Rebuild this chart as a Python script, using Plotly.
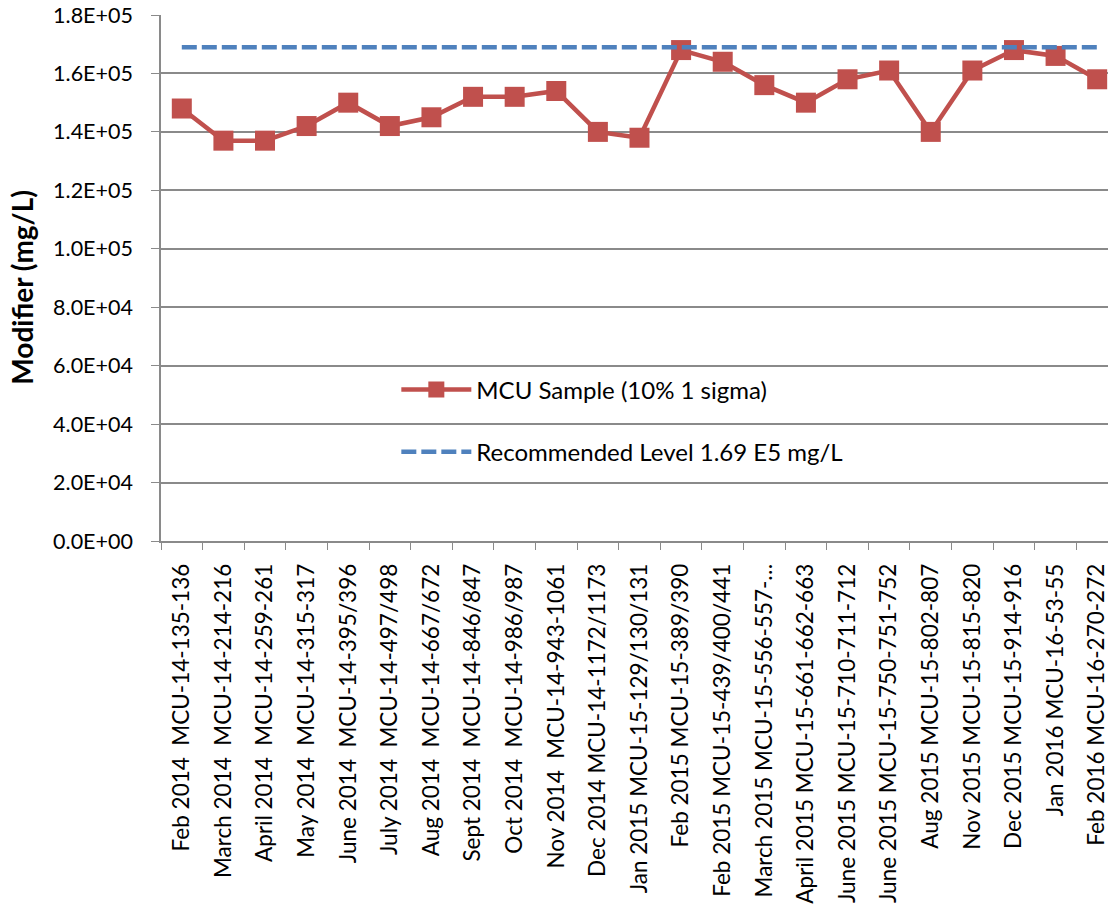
import plotly.graph_objects as go

NB = "\u00a0"
categories = [
    f"Feb 2014{NB}{NB}MCU-14-135-136",
    f"March 2014{NB}{NB}MCU-14-214-216",
    f"April 2014{NB}{NB}MCU-14-259-261",
    f"May 2014{NB}{NB}MCU-14-315-317",
    f"June 2014{NB}{NB}MCU-14-395/396",
    f"July 2014{NB}{NB}MCU-14-497/498",
    f"Aug 2014{NB}{NB}MCU-14-667/672",
    f"Sept 2014{NB}{NB}MCU-14-846/847",
    f"Oct 2014{NB}{NB}MCU-14-986/987",
    f"Nov 2014{NB}{NB}MCU-14-943-1061",
    "Dec 2014 MCU-14-1172/1173",
    "Jan 2015 MCU-15-129/130/131",
    "Feb 2015 MCU-15-389/390",
    "Feb 2015 MCU-15-439/400/441",
    "March 2015 MCU-15-556-557-\u2026",
    "April 2015 MCU-15-661-662-663",
    "June 2015 MCU-15-710-711-712",
    "June 2015 MCU-15-750-751-752",
    "Aug 2015 MCU-15-802-807",
    "Nov 2015 MCU-15-815-820",
    "Dec 2015 MCU-15-914-916",
    "Jan 2016 MCU-16-53-55",
    "Feb 2016 MCU-16-270-272",
]

sample_values = [
    148000, 137000, 137000, 142000, 150000, 142000, 145000, 152000,
    152000, 154000, 140000, 138000, 168000, 164000, 156000, 150000,
    158000, 161000, 140000, 161000, 168000, 166000, 158000,
]

recommended_level = [169000] * len(categories)

y_tick_values = [0, 20000, 40000, 60000, 80000, 100000, 120000, 140000, 160000, 180000]
y_tick_labels = ["0.0E+00", "2.0E+04", "4.0E+04", "6.0E+04", "8.0E+04",
                 "1.0E+05", "1.2E+05", "1.4E+05", "1.6E+05", "1.8E+05"]

FONT = "Lato"
RED = "#C0504D"
BLUE = "#4F81BD"
GRID = "#8A8A8A"

fig = go.Figure()
fig.add_trace(go.Scatter(
    x=categories, y=sample_values, mode="lines+markers",
    name="MCU Sample (10% 1 sigma)", legendgroup="a",
    line=dict(color=RED, width=4.5),
    marker=dict(symbol="square", size=20, color=RED),
))
fig.add_trace(go.Scatter(
    x=categories, y=recommended_level, mode="lines",
    name="Recommended Level 1.69 E5 mg/L", legendgroup="b",
    line=dict(color=BLUE, width=4.5, dash="15px,5px"),
))

fig.update_layout(
    width=1108, height=911,
    margin=dict(l=161, r=0, t=15, b=370),
    paper_bgcolor="white", plot_bgcolor="white",
    font=dict(family=FONT, size=20, color="black"),
    showlegend=True,
    legend=dict(
        x=0.2485, y=0.33, xanchor="left", yanchor="top",
        bgcolor="rgba(0,0,0,0)", font=dict(size=24, family=FONT),
        itemwidth=70, tracegroupgap=28,
    ),
    xaxis=dict(
        type="category", range=[-0.5, 22.26],
        tickangle=-90, tickson="boundaries", ticks="outside", ticklen=7,
        tickcolor=GRID, showline=True, linecolor=GRID, linewidth=1.5,
        showgrid=False, tickfont=dict(size=22.5, family=FONT),
        ticklabelstandoff=12,
    ),
    yaxis=dict(
        range=[0, 180000], tickvals=y_tick_values, ticktext=y_tick_labels,
        ticks="outside", ticklen=8, tickcolor=GRID,
        showline=True, linecolor=GRID, linewidth=1.5,
        showgrid=True, gridcolor=GRID, gridwidth=1.5,
        zeroline=False, tickfont=dict(size=21.5, family=FONT),
        ticklabelstandoff=14,
    ),
    annotations=[dict(
        text="<b>Modifier (mg/L)</b>", textangle=-90,
        xref="paper", yref="paper", x=(22 - 161) / 947, y=0.4815,
        xanchor="center", yanchor="middle", showarrow=False,
        font=dict(size=28, family=FONT),
    )],
)

fig.write_html("out.html")
